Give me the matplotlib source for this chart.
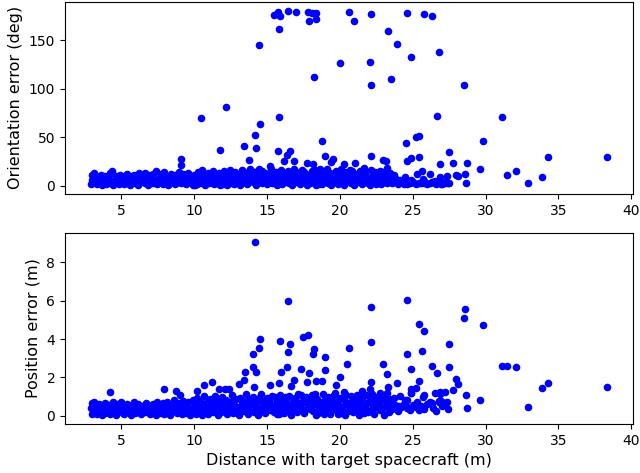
import numpy as np
import matplotlib
matplotlib.use('Agg')
import matplotlib.pyplot as plt

# dense band, 3 - 10 m
near_dist = [2.9, 2.95, 3.0, 3.1, 3.2, 3.15, 3.35, 3.4, 3.45, 3.6, 3.65, 3.7,
             3.85, 3.9, 3.95, 4.1, 4.15, 4.2, 4.35, 4.4, 4.45, 4.6, 4.65, 4.7,
             4.85, 4.9, 4.95, 5.1, 5.15, 5.2, 5.35, 5.4, 5.45, 5.6, 5.65, 5.7,
             5.85, 5.9, 5.95, 6.1, 6.15, 6.2, 6.35, 6.4, 6.45, 6.6, 6.65, 6.7,
             6.85, 6.9, 6.95, 7.1, 7.15, 7.2, 7.35, 7.4, 7.45, 7.6, 7.65, 7.7,
             7.85, 7.9, 7.95, 8.1, 8.15, 8.2, 8.35, 8.4, 8.45, 8.6, 8.65, 8.7,
             8.85, 8.9, 8.95, 9.1, 9.15, 9.2, 9.35, 9.4, 9.45, 9.6, 9.65, 9.7,
             9.85, 9.9, 9.95]
near_orient = [1.5, 6.2, 10.8, 12.9, 3.1, 7.4, 2.2, 9.5, 5.6, 11.6, 1.0, 6.9,
               4.3, 10.2, 1.8, 8.1, 2.6, 12.0, 14.8, 5.0, 0.9, 9.8, 3.4, 6.5,
               1.7, 11.3, 7.1, 5.9, 2.0, 10.4, 12.3, 7.8, 3.5, 0.8, 6.1, 9.9,
               11.0, 4.2, 2.4, 7.3, 1.3, 12.7, 3.8, 9.1, 5.4, 13.4, 2.9, 7.7,
               1.1, 10.6, 5.2, 8.6, 3.0, 11.8, 15.0, 6.4, 1.6, 4.7, 9.4, 12.2,
               2.3, 7.0, 13.8, 10.1, 5.5, 0.9, 3.2, 12.6, 7.9, 6.0, 1.4, 11.1,
               9.0, 4.0, 14.2, 2.7, 7.6, 12.4, 10.9, 5.8, 1.9, 13.1, 3.6, 8.3,
               6.6, 0.7, 11.5]
near_pos = [0.42, 0.08, 0.66, 0.21, 0.55, 0.74, 0.12, 0.38, 0.61, 0.49, 0.27, 0.07,
            0.68, 0.15, 0.36, 0.25, 0.58, 0.10, 0.44, 0.72, 0.19, 0.05, 0.33, 0.63,
            0.52, 0.28, 0.70, 0.16, 0.47, 0.09, 0.60, 0.22, 0.40, 0.31, 0.06, 0.57,
            0.73, 0.45, 0.13, 0.20, 0.64, 0.35, 0.08, 0.50, 0.27, 0.41, 0.18, 0.69,
            0.56, 0.30, 0.11, 0.14, 0.62, 0.37, 0.48, 0.04, 0.71, 0.26, 0.53, 0.17,
            0.66, 0.10, 0.43, 0.34, 0.75, 0.21, 0.07, 0.46, 0.59, 0.81, 0.24, 0.39,
            0.15, 0.55, 0.68, 0.44, 0.09, 0.77, 0.29, 0.62, 0.13, 0.70, 0.36, 0.05,
            0.19, 0.84, 0.50]

# dense band, 10 - 18 m
mid_dist = [10.05, 10.12, 10.18, 10.25, 10.35, 10.42, 10.48, 10.55, 10.65, 10.72, 10.78, 10.85,
            10.95, 11.02, 11.08, 11.15, 11.25, 11.32, 11.38, 11.45, 11.55, 11.62, 11.68, 11.75,
            11.85, 11.92, 11.98, 12.05, 12.15, 12.22, 12.28, 12.35, 12.45, 12.52, 12.58, 12.65,
            12.75, 12.82, 12.88, 12.95, 13.05, 13.12, 13.18, 13.25, 13.35, 13.42, 13.48, 13.55,
            13.65, 13.72, 13.78, 13.85, 13.95, 14.02, 14.08, 14.15, 14.25, 14.32, 14.38, 14.45,
            14.55, 14.62, 14.68, 14.75, 14.85, 14.92, 14.98, 15.05, 15.15, 15.22, 15.28, 15.35,
            15.45, 15.52, 15.58, 15.65, 15.75, 15.82, 15.88, 15.95, 16.05, 16.12, 16.18, 16.25,
            16.35, 16.42, 16.48, 16.55, 16.65, 16.72, 16.78, 16.85, 16.95, 17.02, 17.08, 17.15,
            17.25, 17.32, 17.38, 17.45, 17.55, 17.62, 17.68, 17.75, 17.85, 17.92, 17.98, 18.05]
mid_orient = [1.2, 6.0, 10.7, 14.1, 8.4, 13.0, 3.1, 16.2, 4.8, 0.9, 11.9, 7.5,
              12.7, 2.5, 9.3, 5.1, 6.9, 15.5, 1.6, 10.2, 3.9, 8.8, 13.6, 0.8,
              11.2, 5.6, 2.2, 14.9, 7.7, 1.3, 12.4, 4.4, 16.4, 9.6, 3.0, 6.3,
              2.0, 13.8, 7.2, 10.5, 5.3, 0.6, 11.6, 15.8, 9.0, 14.3, 3.7, 7.0,
              1.8, 6.6, 12.9, 17.0, 10.8, 4.1, 8.2, 14.6, 0.9, 12.1, 5.9, 16.8,
              7.9, 2.8, 15.2, 10.0, 13.5, 4.6, 1.4, 9.2, 6.1, 11.4, 17.5, 2.5,
              3.3, 8.7, 14.0, 0.7, 12.6, 5.0, 9.8, 16.0, 1.5, 7.4, 13.3, 4.2,
              10.4, 15.6, 2.9, 6.8, 5.7, 0.8, 11.7, 17.2, 8.9, 14.4, 3.6, 12.0,
              2.1, 6.4, 16.3, 10.3, 13.9, 4.9, 8.0, 1.0, 7.1, 11.8, 2.4, 15.3]
mid_pos = [0.66, 0.12, 0.93, 0.38, 0.25, 0.80, 0.51, 0.06, 1.02, 0.44, 0.17, 0.71,
           0.09, 0.58, 0.88, 0.33, 0.47, 0.22, 0.76, 1.05, 0.63, 0.04, 0.35, 0.90,
           0.18, 0.97, 0.54, 0.28, 0.82, 0.41, 0.08, 0.66, 0.31, 0.73, 1.08, 0.14,
           0.57, 0.20, 0.86, 0.45, 0.05, 0.95, 0.36, 0.69, 0.78, 0.27, 0.61, 1.12,
           0.43, 0.10, 0.89, 0.24, 0.64, 1.00, 0.19, 0.52, 0.34, 0.71, 0.07, 0.94,
           1.15, 0.48, 0.26, 0.80, 0.13, 0.60, 0.92, 0.39, 0.85, 0.30, 0.56, 1.06,
           0.22, 0.98, 0.67, 0.11, 0.50, 0.08, 1.10, 0.74, 0.37, 0.83, 0.15, 0.96,
           0.68, 0.25, 1.03, 0.46, 0.06, 0.58, 0.87, 0.32, 0.91, 0.40, 0.18, 1.14,
           0.53, 1.07, 0.29, 0.77, 0.16, 0.70, 0.99, 0.42, 0.81, 0.35, 0.60, 1.09]

# dense band, 18 - 23.5 m
far_dist = [18.15, 18.22, 18.28, 18.35, 18.45, 18.52, 18.58, 18.65, 18.75, 18.82, 18.88, 18.95,
            19.05, 19.12, 19.18, 19.25, 19.35, 19.42, 19.48, 19.55, 19.65, 19.72, 19.78, 19.85,
            19.95, 20.02, 20.08, 20.15, 20.25, 20.32, 20.38, 20.45, 20.55, 20.62, 20.68, 20.75,
            20.85, 20.92, 20.98, 21.05, 21.15, 21.22, 21.28, 21.35, 21.45, 21.52, 21.58, 21.65,
            21.75, 21.82, 21.88, 21.95, 22.05, 22.12, 22.18, 22.25, 22.35, 22.42, 22.48, 22.55,
            22.65, 22.72, 22.78, 22.85, 22.95, 23.02, 23.08, 23.15, 23.25, 23.32, 23.38, 23.45]
far_orient = [4.0, 9.7, 15.9, 0.9, 12.5, 6.7, 2.3, 17.8, 1.6, 11.0, 5.4, 14.7,
              8.5, 16.9, 3.2, 10.9, 13.2, 0.8, 7.3, 4.5, 5.8, 15.1, 9.9, 2.0,
              11.5, 3.9, 17.3, 7.8, 1.2, 14.0, 6.2, 10.6, 9.3, 4.7, 16.6, 2.6,
              15.7, 8.1, 0.9, 12.3, 3.4, 10.7, 6.9, 14.9, 7.6, 1.9, 13.1, 18.0,
              12.8, 5.5, 9.5, 2.8, 0.8, 16.1, 4.3, 11.2, 8.8, 13.7, 2.1, 6.0,
              5.1, 10.0, 15.4, 1.4, 14.2, 3.7, 7.7, 11.9, 2.5, 9.1, 5.3, 13.6]
far_pos = [0.27, 0.62, 1.12, 0.05, 0.90, 0.14, 0.48, 0.73, 0.39, 1.16, 0.08, 0.84,
           0.66, 0.23, 0.97, 0.51, 0.12, 0.79, 0.44, 1.05, 1.18, 0.31, 0.70, 0.09,
           0.55, 0.95, 0.17, 0.36, 0.86, 0.04, 1.13, 0.60, 0.28, 0.68, 0.45, 1.02,
           0.74, 0.20, 0.93, 0.50, 1.10, 0.37, 0.07, 0.82, 0.58, 0.91, 0.25, 0.13,
           0.42, 1.07, 0.66, 0.19, 0.89, 0.33, 1.15, 0.54, 0.11, 0.72, 0.46, 0.98,
           0.64, 1.20, 0.30, 0.83, 0.40, 0.06, 0.94, 0.71, 1.17, 0.52, 0.21, 0.87]

# sparse tail, 23.5 - 27.5 m
tail_dist = [23.6, 23.8, 24.0, 24.2, 24.4, 24.6, 24.8, 25.0, 25.2, 25.4, 25.6, 25.8,
             26.0, 26.2, 26.4, 26.6, 26.8, 27.0, 27.2, 27.4, 23.7, 24.1, 24.5, 24.9,
             25.3, 25.7, 26.3, 26.9]
tail_orient = [3.0, 8.5, 2.1, 4.6, 1.8, 3.9, 2.5, 4.2, 1.6, 3.1, 2.8, 5.0,
               1.9, 2.4, 3.6, 1.7, 4.4, 2.0, 3.3, 2.6, 11.0, 6.2, 9.4, 5.8,
               12.1, 7.5, 4.0, 9.0]
tail_pos = [0.35, 0.55, 0.28, 0.48, 0.62, 0.40, 0.30, 0.58, 0.45, 0.33, 0.52, 0.36,
            0.60, 0.70, 0.42, 0.25, 0.78, 0.50, 0.68, 0.38, 0.95, 1.05, 0.85, 1.20,
            0.75, 1.00, 0.65, 1.15]

# samples with a large orientation error
big_rot_dist = [15.47, 15.74, 15.9, 16.45, 16.98, 17.83, 18.1, 18.33, 17.9, 18.33, 15.81, 14.42,
                20.62, 20.95, 22.11, 23.3, 23.9, 20.0, 22.04, 18.2, 23.5, 22.11, 12.15, 24.64,
                25.78, 26.3, 24.86, 26.77, 28.5, 26.67, 31.1, 24.52, 25.25, 25.41, 29.83, 27.47,
                25.41, 24.86, 24.64, 34.26, 38.33, 26.9, 27.77, 28.71, 29.65, 25.67, 26.17, 31.46,
                32.1, 33.9, 32.88, 28.66, 28.0, 28.1, 28.6, 27.36, 27.46, 26.97, 10.45, 15.81,
                14.53, 14.14, 13.45, 14.26, 11.78, 15.77, 16.6, 16.34, 16.13, 16.84, 18.8, 18.95,
                19.53, 19.42, 22.11, 21.06, 20.26, 22.96, 23.15, 17.75, 18.15, 13.75, 15.19, 9.1,
                9.1, 23.2, 23.3, 24.06]
big_rot_orient = [176, 179.4, 175, 180.4, 179.4, 179.4, 178.4, 178.4, 170, 171.5, 161.8, 145,
                  179.4, 170, 177.4, 159, 146, 126.3, 127.6, 111.8, 109.7, 103.5, 81, 178.4,
                  177, 175, 132.8, 138, 103.5, 71.7, 70.9, 44.2, 50.7, 51.4, 46.6, 35.2,
                  30, 28.3, 25.2, 30, 30, 22, 23.1, 23.1, 16.9, 15.5, 12.4, 11,
                  14.8, 9, 2.8, 2.8, 11.4, 9.6, 12.4, 9.6, 2.8, 1.7, 69.7, 70.7,
                  63.8, 51.8, 41, 38.6, 37.3, 36.2, 36.2, 32, 25.9, 25.2, 46.6, 30.3,
                  27.6, 24.8, 30.3, 23.5, 22.8, 26.6, 25.9, 23.5, 22.5, 26.6, 20, 27.6,
                  21.7, 18, 14, 5]
big_rot_pos = [0.45, 0.62, 3.91, 5.99, 0.8, 4.22, 0.55, 1.82, 2.22, 0.9, 1.7, 3.55,
               3.51, 0.7, 5.65, 1.53, 1.69, 2.03, 1.4, 3.5, 0.6, 3.86, 0.5, 6.05,
               4.44, 2.6, 1.4, 0.75, 5.08, 2.24, 2.6, 0.5, 1.43, 4.8, 4.72, 3.74,
               1.83, 2.45, 3.2, 1.69, 1.53, 1.25, 1.36, 0.41, 0.83, 3.38, 0.65, 2.6,
               2.55, 1.46, 0.45, 1.09, 1.91, 1.65, 5.58, 0.75, 2.55, 0.8, 0.4, 0.3,
               4.01, 9.06, 1.88, 2.26, 0.6, 0.9, 3.72, 2.52, 0.5, 1.88, 1.82, 3.08,
               0.6, 0.85, 1.79, 0.5, 0.9, 2.69, 0.8, 1.77, 3.2, 0.7, 1.62, 0.6,
               0.35, 2.2, 0.9, 0.5]

# samples with a large position error only
big_pos_dist = [14.0, 14.0, 13.48, 15.97, 17.3, 17.44, 18.95, 20.5, 16.66, 11.25, 10.64, 13.1,
                14.07, 19.75, 10.18, 8.99, 4.22, 7.89, 8.74, 11.7, 12.1, 12.4, 16.43, 24.86,
                25.8, 26.5, 27.2, 24.64, 21.5, 20.3]
big_pos_orient = [8.0, 5.0, 10.0, 6.0, 9.0, 4.0, 7.0, 11.0, 3.0, 9.0, 12.0, 4.0,
                  14.0, 6.0, 2.0, 7.0, 13.0, 5.0, 10.0, 3.0, 11.0, 6.0, 8.0, 4.0,
                  3.0, 5.0, 4.0, 2.0, 9.0, 12.0]
big_pos_pos = [3.2, 2.52, 2.26, 2.31, 2.46, 4.1, 2.39, 2.69, 1.57, 1.79, 1.6, 1.65,
               1.48, 1.6, 1.31, 1.1, 1.26, 1.4, 1.31, 1.4, 1.4, 1.4, 3.32, 1.17,
               1.09, 1.2, 1.25, 0.83, 1.3, 1.25]

dist = np.array(near_dist + mid_dist + far_dist + tail_dist + big_rot_dist + big_pos_dist)
orient_err = np.array(near_orient + mid_orient + far_orient + tail_orient + big_rot_orient + big_pos_orient)
pos_err = np.array(near_pos + mid_pos + far_pos + tail_pos + big_rot_pos + big_pos_pos)

fig = plt.figure(figsize=(6.4, 4.73), dpi=100)
ax1 = fig.add_axes([0.1016, 0.590, 0.887, 0.406])
ax2 = fig.add_axes([0.1016, 0.104, 0.887, 0.403])

ax1.scatter(dist, orient_err, s=20, c='b')
ax2.scatter(dist, pos_err, s=20, c='b')

ax1.set_ylabel('Orientation error (deg)', fontsize=11.5)
ax2.set_ylabel('Position error (m)', fontsize=11.5)
ax2.set_xlabel('Distance with target spacecraft (m)', fontsize=11.5)

for ax in (ax1, ax2):
    ax.set_xticks([5, 10, 15, 20, 25, 30, 35, 40])
    ax.tick_params(labelsize=10)
ax1.set_yticks([0, 50, 100, 150])
ax2.set_yticks([0, 2, 4, 6, 8])

fig.savefig('out.png', dpi=100)
